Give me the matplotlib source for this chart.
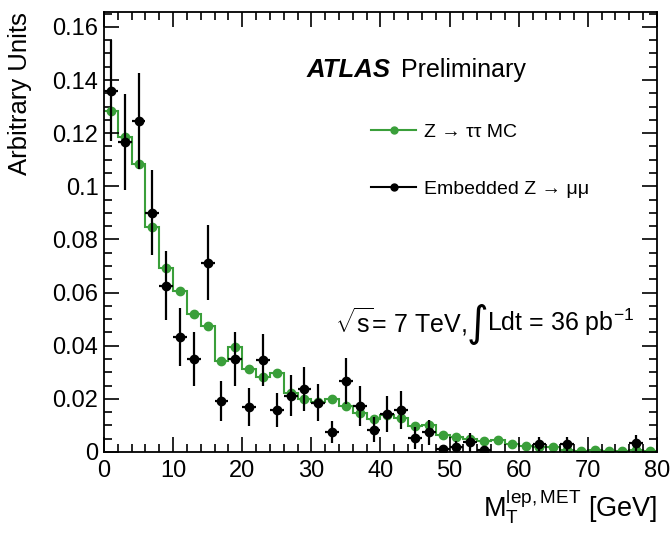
import numpy as np
import matplotlib
matplotlib.use("Agg")
import matplotlib.pyplot as plt
from matplotlib.ticker import MultipleLocator, FuncFormatter

plt.rcParams['font.family'] = ['Liberation Sans', 'DejaVu Sans']
plt.rcParams['mathtext.fontset'] = 'custom'
plt.rcParams['mathtext.rm'] = 'Liberation Sans'
plt.rcParams['mathtext.it'] = 'Liberation Sans:italic'

# bins of 2 GeV from 0 to 80
bin_edges = np.arange(0, 82, 2)
bin_centers = bin_edges[:-1] + 1

# Z -> tautau MC (green)
mc_vals = [0.1284, 0.1186, 0.1084, 0.0847, 0.0692, 0.0605, 0.0518, 0.0474,
           0.0341, 0.0397, 0.0312, 0.0284, 0.0297, 0.0222, 0.0198, 0.0188,
           0.0200, 0.0173, 0.0147, 0.0126, 0.0140, 0.0128, 0.0096, 0.0100,
           0.0065, 0.0056, 0.0050, 0.0043, 0.0045, 0.0030, 0.0023, 0.0019,
           0.0017, 0.0009, 0.0005, 0.0006, 0.0005, 0.0005, 0.0006, 0.0002]

# embedded Z -> mumu (black), nan = empty bin
emb_vals = [0.1359, 0.1167, 0.1246, 0.0900, 0.0625, 0.0433, 0.0350, 0.0713,
            0.0192, 0.0350, 0.0169, 0.0346, 0.0158, 0.0211, 0.0237, 0.0185,
            0.0075, 0.0267, 0.0173, 0.0083, 0.0143, 0.0158, 0.0053, 0.0075,
            0.0012, 0.0020, 0.0036, 0.0008, np.nan, np.nan, np.nan, 0.0030,
            np.nan, 0.0030, np.nan, np.nan, np.nan, np.nan, 0.0034, np.nan]
emb_errs = [0.019, 0.018, 0.018, 0.016, 0.013, 0.011, 0.010, 0.014,
            0.0077, 0.010, 0.007, 0.0097, 0.0064, 0.0077, 0.0081, 0.007,
            0.0043, 0.0087, 0.0074, 0.0047, 0.0066, 0.007, 0.004, 0.0047,
            0.0015, 0.002, 0.0035, 0.0012, np.nan, np.nan, np.nan, 0.0028,
            np.nan, 0.0028, np.nan, np.nan, np.nan, np.nan, 0.003, np.nan]

green = '#3a9f3a'

fig = plt.figure(figsize=(6.71, 5.33), dpi=100)
ax = fig.add_axes([0.155, 0.152, 0.824, 0.8255])

ax.stairs(mc_vals, bin_edges, color=green, lw=1.5, baseline=None)
ax.plot(bin_centers, mc_vals, 'o', color=green, ms=6, mec=green)
ax.errorbar(bin_centers, emb_vals, yerr=emb_errs, xerr=1, fmt='o', color='black',
            ms=6, elinewidth=1.6, capsize=0)

ax.set_xlim(0, 80)
ax.set_ylim(0, 0.1656)

ax.xaxis.set_major_locator(MultipleLocator(10))
ax.xaxis.set_minor_locator(MultipleLocator(2))
ax.yaxis.set_major_locator(MultipleLocator(0.02))
ax.yaxis.set_minor_locator(MultipleLocator(0.005))
ax.yaxis.set_major_formatter(FuncFormatter(lambda v, p: '%g' % round(v, 3)))
ax.xaxis.set_major_formatter(FuncFormatter(lambda v, p: '%d' % v))
ax.tick_params(which='both', direction='in', top=True, right=True, width=1.2,
               labelsize=17)
ax.tick_params(which='major', length=11)
ax.tick_params(which='minor', length=6)
ax.tick_params(axis='y', pad=4)
ax.tick_params(axis='x', pad=6)
for s in ax.spines.values():
    s.set_linewidth(1.3)

ax.set_ylabel('Arbitrary Units', fontsize=18.5, loc='top')
ax.yaxis.set_label_coords(-0.13, 1.0)
ax.set_xlabel(r'M$_\mathrm{T}^\mathrm{lep,MET}$ [GeV]', fontsize=19.5, loc='right')
ax.xaxis.set_label_coords(1.0, -0.08)

# ATLAS label
ax.text(0.367, 0.868, 'ATLAS', transform=ax.transAxes, fontsize=18.5,
        fontweight='bold', fontstyle='italic', va='center')
ax.text(0.537, 0.868, 'Preliminary', transform=ax.transAxes, fontsize=18,
        va='center')

# legend
h_mc, = ax.plot([], [], '-o', color=green, ms=5, lw=1.5)
h_emb, = ax.plot([], [], '-o', color='black', ms=5, lw=1.5)
ax.legend([h_mc, h_emb], ['Z → ττ MC', 'Embedded Z → μμ'], frameon=False,
          loc='upper left', bbox_to_anchor=(0.466, 0.77), fontsize=14,
          handlelength=2.3, handletextpad=0.4, labelspacing=2.05, borderpad=0)

# energy / luminosity
ax.text(0.418, 0.295, r'$\sqrt{\mathrm{s}}$= 7 TeV,',
        transform=ax.transAxes, fontsize=18, va='center')
ax.text(0.655, 0.29, '∫', transform=ax.transAxes, fontsize=30, va='center',
        family='DejaVu Sans')
ax.text(0.692, 0.295, r'Ldt = 36 pb$^{-1}$',
        transform=ax.transAxes, fontsize=18, va='center')

fig.savefig('out.png', dpi=100)
